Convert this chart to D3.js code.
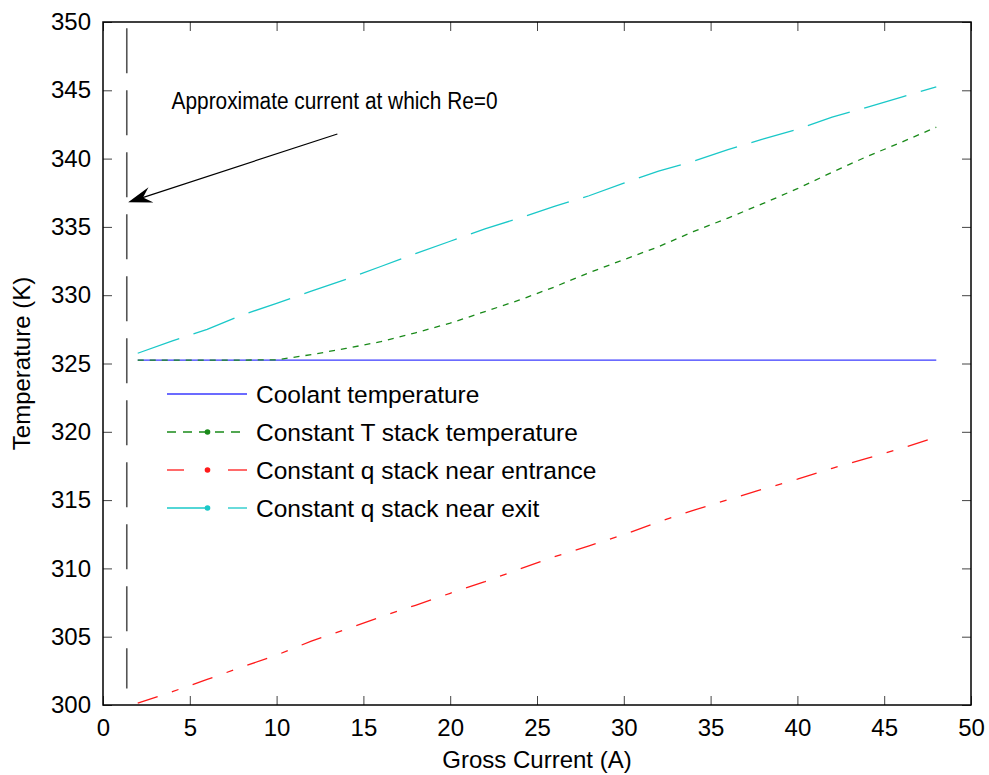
<!DOCTYPE html>
<html><head><meta charset="utf-8">
<script src="https://cdn.jsdelivr.net/npm/d3@7"></script>
<style>body{margin:0;background:#fff}svg{display:block}text{font-family:"Liberation Sans",Arial,sans-serif}</style>
</head><body>
<script>
const current = [2,4,6,8,10,12,14,16,18,20,22,24,26,28,30,32,34,36,38,40,42,44,46,48];
const coolantTemp = [325.25,325.25,325.25,325.25,325.25,325.25,325.25,325.25,325.25,325.25,325.25,325.25,325.25,325.25,325.25,325.25,325.25,325.25,325.25,325.25,325.25,325.25,325.25,325.25];
const constTStack = [325.25,325.25,325.25,325.25,325.27,325.65,326.1,326.6,327.25,327.95,328.8,329.65,330.6,331.65,332.6,333.55,334.65,335.65,336.7,337.8,339.0,340.15,341.2,342.3];
const constQEntrance = [300.13,300.98,301.87,302.78,303.65,304.68,305.55,306.45,307.3,308.18,309.03,309.95,310.85,311.65,312.47,313.4,314.25,315.03,315.8,316.53,317.33,318.05,318.8,319.6];
const constQExit = [325.75,326.65,327.5,328.55,329.4,330.3,331.17,332.1,333.05,333.95,334.85,335.65,336.5,337.28,338.2,339.08,339.8,340.65,341.42,342.15,343.03,343.75,344.5,345.25];
const xTicks = [0,5,10,15,20,25,30,35,40,45,50];
const yTicks = [300,305,310,315,320,325,330,335,340,345,350];
const seriesNames = ["Coolant temperature","Constant T stack temperature","Constant q stack near entrance","Constant q stack near exit"];
const reZeroCurrent = 1.37;
const reZeroRange = [301.2, 349.55];
const annotationText = "Approximate current at which Re=0";
const annotationPos = [3.95, 343.6];
const arrowFrom = [13.5, 341.8];
const arrowTo = [1.45, 336.8];

const W = 989, H = 775;
const m = {l:103, r:18, t:22, b:70};
const svg = d3.select("body").append("svg").attr("width", W).attr("height", H);
const x = d3.scaleLinear().domain([0,50]).range([m.l, W-m.r]);
const y = d3.scaleLinear().domain([300,350]).range([H-m.b, m.t]);

const fs = 24;
// axes
const tickLen = 9;
const gx = svg.append("g").attr("transform", `translate(0,${y(300)})`)
  .call(d3.axisBottom(x).tickValues(xTicks).tickSize(-tickLen).tickPadding(14).tickFormat(d3.format("d")));
const gxt = svg.append("g").attr("transform", `translate(0,${y(350)})`)
  .call(d3.axisTop(x).tickValues(xTicks).tickSize(-tickLen).tickFormat(""));
const gy = svg.append("g").attr("transform", `translate(${x(0)},0)`)
  .call(d3.axisLeft(y).tickValues(yTicks).tickSize(-tickLen).tickPadding(12).tickFormat(d3.format("d")));
const gyr = svg.append("g").attr("transform", `translate(${x(50)},0)`)
  .call(d3.axisRight(y).tickValues(yTicks).tickSize(-tickLen).tickFormat(""));
[gx,gxt,gy,gyr].forEach(g=>{
  g.select(".domain").remove();
  g.selectAll(".tick line").attr("stroke","#444").attr("stroke-width",1);
  g.selectAll("text").attr("font-size",fs).attr("fill","#000").attr("font-family","Liberation Sans, Arial, sans-serif");
});
svg.append("rect").attr("x",x(0)).attr("y",y(350)).attr("width",x(50)-x(0)).attr("height",y(300)-y(350))
  .attr("fill","none").attr("stroke","#000").attr("stroke-width",1.5);

// axis titles
svg.append("text").attr("x",(x(0)+x(50))/2).attr("y",768).attr("text-anchor","middle").attr("font-size",fs).text("Gross Current (A)");
svg.append("text").attr("transform",`translate(30,${(y(300)+y(350))/2}) rotate(-90)`).attr("text-anchor","middle").attr("font-size",fs).text("Temperature (K)");

// series
const series = [
  {v:coolantTemp, color:"#3a3aff", dash:null, w:1.4},
  {v:constTStack, color:"#1a8a1a", dash:"6,6", w:1.3},
  {v:constQEntrance, color:"#ff1a1a", dash:"21,15,7,15", w:1.3},
  {v:constQExit, color:"#1ac8c8", dash:"44,15", w:1.3}
];
const line = d3.line().x((d,i)=>x(current[i])).y(d=>y(d));
// Re=0 vertical line
svg.append("line").attr("x1",x(reZeroCurrent)).attr("x2",x(reZeroCurrent))
  .attr("y1",y(reZeroRange[1])).attr("y2",y(reZeroRange[0]))
  .attr("stroke","#555").attr("stroke-width",1.6).attr("stroke-dasharray","45,17");
series.forEach(s=>{
  svg.append("path").datum(s.v).attr("d",line).attr("fill","none")
    .attr("stroke",s.color).attr("stroke-width",s.w).attr("stroke-dasharray",s.dash);
});

// annotation
svg.append("text").attr("x",x(annotationPos[0])).attr("y",y(annotationPos[1])).attr("font-size",23.5)
  .attr("textLength",326).attr("lengthAdjust","spacingAndGlyphs").text(annotationText);
const ax0 = x(arrowFrom[0]), ay0 = y(arrowFrom[1]), ax1 = x(arrowTo[0]), ay1 = y(arrowTo[1]);
const dx = ax0-ax1, dy = ay0-ay1, len = Math.hypot(dx,dy), ux = dx/len, uy = dy/len, px = -uy, py = ux;
const L = 24, Wd = 8;
svg.append("line").attr("x1",ax0).attr("y1",ay0).attr("x2",ax1+ux*L*0.6).attr("y2",ay1+uy*L*0.6).attr("stroke","#000").attr("stroke-width",1.2);
svg.append("path").attr("d",`M${ax1},${ay1} L${ax1+ux*L+px*Wd},${ay1+uy*L+py*Wd} L${ax1+ux*L*0.65},${ay1+uy*L*0.65} L${ax1+ux*L-px*Wd},${ay1+uy*L-py*Wd} Z`).attr("fill","#000");

// legend
const legY = [394, 432, 470, 508];
const lx0 = 167, lx1 = 247, lxm = 207.5, ltx = 256;
series.forEach((s,i)=>{
  const g = svg.append("g");
  if(i===0){
    g.append("line").attr("x1",lx0).attr("x2",lx1).attr("y1",legY[i]).attr("y2",legY[i]).attr("stroke",s.color).attr("stroke-width",s.w);
  } else if(i===1){
    g.append("line").attr("x1",lx0).attr("x2",lx1).attr("y1",legY[i]).attr("y2",legY[i]).attr("stroke",s.color).attr("stroke-width",s.w).attr("stroke-dasharray","9,7");
  } else if(i===2){
    g.append("line").attr("x1",lx0).attr("x2",lx0+17).attr("y1",legY[i]).attr("y2",legY[i]).attr("stroke",s.color).attr("stroke-width",s.w);
    g.append("line").attr("x1",lx1-19).attr("x2",lx1).attr("y1",legY[i]).attr("y2",legY[i]).attr("stroke",s.color).attr("stroke-width",s.w);
  } else {
    g.append("line").attr("x1",lx0).attr("x2",lxm).attr("y1",legY[i]).attr("y2",legY[i]).attr("stroke",s.color).attr("stroke-width",s.w);
    g.append("line").attr("x1",lx1-19).attr("x2",lx1).attr("y1",legY[i]).attr("y2",legY[i]).attr("stroke",s.color).attr("stroke-width",s.w);
  }
  if(i>0) g.append("circle").attr("cx",lxm).attr("cy",legY[i]).attr("r",2.8).attr("fill",s.color);
  g.append("text").attr("x",ltx).attr("y",legY[i]+9).attr("font-size",24.5).text(seriesNames[i]);
});
</script>
</body></html>
